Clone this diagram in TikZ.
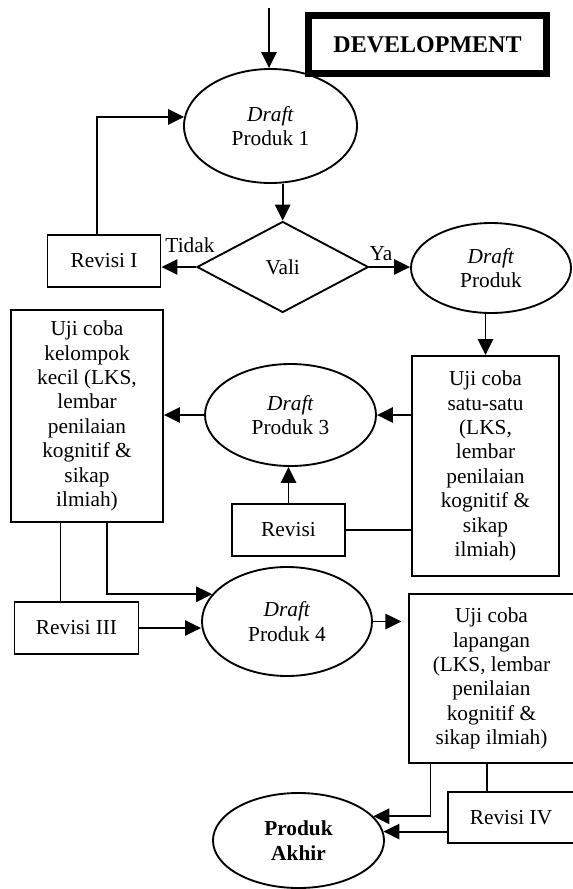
\documentclass[tikz,border=0pt]{standalone}
\usepackage{fontspec}
\setmainfont{Liberation Serif}
\usepackage{tikz}
\usetikzlibrary{arrows.meta,positioning,shapes.geometric,calc}

\begin{document}
\begin{tikzpicture}[x=0.75pt, y=-0.75pt,
    font=\fontsize{16}{18.3}\selectfont,
    box/.style={rectangle, draw, line width=1.4pt, inner sep=1pt, align=center},
    oval/.style={ellipse, draw, line width=1.4pt, inner sep=0pt, align=center},
    decision/.style={diamond, draw, line width=1.4pt, inner sep=0pt, minimum width=128.6pt, minimum height=68.25pt},
    arrow/.style={-{Triangle[length=12pt,width=11.5pt]}, line width=1.4pt},
    link/.style={line width=1.1pt}
]
\useasboundingbox (0,0) rectangle (572,889);

\node[box, line width=5.25pt, minimum width=178.5pt, minimum height=43.5pt, font=\fontsize{18}{20}\selectfont\bfseries] (dev) at (427.5,44.5) {DEVELOPMENT};

\coordinate (start) at (269,8);
\node[oval, minimum width=129.75pt, minimum height=85.5pt] (d1) at (270.5,126) {\textit{Draft}\\Produk 1};
\node[decision] (vali) at (282.7,267) {Vali};
\node[box, minimum width=84.75pt, minimum height=39pt] (rev1) at (104,261) {Revisi I};
\node[oval, minimum width=120pt, minimum height=67.5pt] (d2) at (491,268) {\textit{Draft}\\Produk};
\node (tidak) at (190,245) {Tidak};
\node (ya) at (381,254) {Ya};

\node[box, minimum width=110.25pt, minimum height=165pt] (satu) at (485.5,466) {Uji coba\\satu-satu\\(LKS,\\lembar\\penilaian\\kognitif \&\\sikap\\ilmiah)};
\node[oval, minimum width=128.25pt, minimum height=76.5pt] (d3) at (290.5,415) {\textit{Draft}\\Produk 3};
\node[box, minimum width=114pt, minimum height=159pt] (kel) at (87,416) {Uji coba\\kelompok\\kecil (LKS,\\lembar\\penilaian\\kognitif \&\\sikap\\ilmiah)};
\node[box, minimum width=84.75pt, minimum height=39pt] (rev2) at (288.5,530) {Revisi};

\node[box, minimum width=93pt, minimum height=39pt] (rev3) at (76.5,628) {Revisi III};
\node[oval, minimum width=127.5pt, minimum height=81.75pt] (d4) at (287,621.5) {\textit{Draft}\\Produk 4};
\node[box, minimum width=123.75pt, minimum height=126.75pt] (lap) at (491.5,678.5) {Uji coba\\lapangan\\(LKS, lembar\\penilaian\\kognitif \&\\sikap ilmiah)};
\node[box, minimum width=94.5pt, minimum height=38.25pt] (rev4) at (511,817.5) {Revisi IV};
\node[oval, minimum width=128.25pt, minimum height=71.25pt, font=\fontsize{16}{18.3}\selectfont\bfseries] (akhir) at (298.5,840.5) {Produk\\Akhir};

% alur utama
\draw[arrow] (start) -- (start |- d1.north);
\draw[arrow] (vali.north |- d1.south) -- (vali.north);
\draw[arrow] (vali.west) -- (vali.west -| rev1.east);
\draw[arrow] ([xshift=-5.25pt]rev1.north) |- (d1.174);
\draw[arrow] (vali.east) -- (vali.east -| d2.west);
\draw[arrow] (satu.north |- d2.south) -- (satu.north);
\draw[arrow] (satu.west |- d3.east) -- (d3.east);
\draw[arrow] (d3.west) -- (d3.west -| kel.east);
\draw[arrow] (rev2.north) -- (rev2.north |- d3.south);
\draw[link] (rev2.east) -- (rev2.east -| satu.west);

% revisi III dan produk 4
\draw[link] ([xshift=-19.75pt]kel.south) -- ([xshift=-19.75pt]kel.south |- rev3.north);
\draw[arrow] ([xshift=14.8pt]kel.south) |- (d4.160);
\draw[arrow] (rev3.east) -- (rev3.east -| d4.west);
\draw[arrow] (d4.east) -- ([xshift=-5pt]d4.east -| lap.west);

% produk akhir
\draw[arrow] ([xshift=-45.75pt]lap.south) |- (akhir.18);
\draw[link] ([xshift=-3.4pt]lap.south) -- ([xshift=-3.4pt]lap.south |- rev4.north);
\draw[arrow] (rev4.west |- akhir.6) -- (akhir.6);
\end{tikzpicture}
\end{document}
